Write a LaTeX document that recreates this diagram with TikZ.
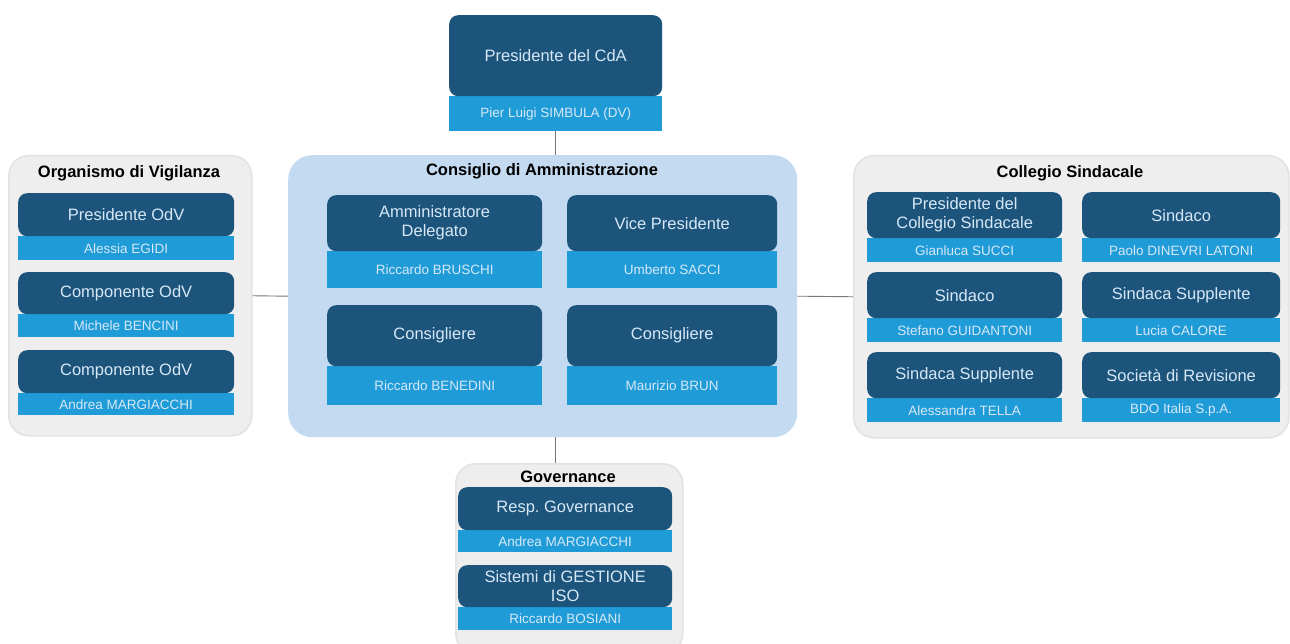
\documentclass[tikz,border=0pt]{standalone}
\usepackage{fontspec}
\setmainfont{Liberation Sans}
\frenchspacing
\usetikzlibrary{positioning}
\definecolor{darkb}{RGB}{28,84,124}
\definecolor{lightb}{RGB}{31,156,216}
\definecolor{cdafill}{RGB}{196,218,240}
\definecolor{sidefill}{RGB}{238,238,238}
\definecolor{sideline}{RGB}{226,226,226}
\definecolor{roletext}{RGB}{214,232,246}
\definecolor{conn}{RGB}{120,120,120}
\tikzset{
  darkbox/.style={fill=darkb, rounded corners=9pt, inner sep=0pt, text=roletext, align=center, font=\fontsize{16.5}{19}\selectfont},
  lightbar/.style={fill=lightb, inner sep=0pt, text=roletext, align=center, font=\fontsize{13.5}{15}\selectfont},
  cdabox/.style={fill=cdafill, rounded corners=24pt, inner sep=0pt},
  sidebox/.style={fill=sidefill, draw=sideline, line width=1.5pt, rounded corners=20pt, inner sep=0pt},
  grptitle/.style={font=\bfseries\fontsize{16.5}{18}\selectfont, text=black, inner sep=0pt},
  link/.style={draw=conn, line width=0.9pt}
}
% name, x1, x2, ytop, ymid, ybot, role, person
\newcommand{\orgbox}[8]{%
  \node[lightbar, anchor=north west, minimum width={(#3-#2)*1pt}, minimum height={(#6-#5)*1pt}] (#1b) at (#2,#5) {#8};
  \node[darkbox, anchor=north west, minimum width={(#3-#2)*1pt}, minimum height={(#5-#4)*1pt}] (#1) at (#2,#4) {#7};
}
\begin{document}
\begin{tikzpicture}[x=1pt,y=-1pt]
\useasboundingbox[fill=white] (0,0) rectangle (1290,644);

% containers
\node[sidebox, anchor=north west, minimum width=243pt, minimum height=280pt] (odv) at (8,155) {};
\node[cdabox, anchor=north west, minimum width=509pt, minimum height=282pt] (cda) at (288,155) {};
\node[sidebox, anchor=north west, minimum width=435pt, minimum height=282pt] (cs) at (853,155) {};
\node[sidebox, anchor=north west, minimum width=227pt, minimum height=190pt] (gov) at (455,463) {};

% titles
\node[grptitle] (odvt) at (129,173) {Organismo di Vigilanza};
\node[grptitle] (cdat) at (542,171) {Consiglio di Amministrazione};
\node[grptitle] (cst) at (1070,173) {Collegio Sindacale};
\node[grptitle] (govt) at (568,477) {Governance};

% top
\orgbox{pres}{449}{662}{15}{96}{131}{Presidente del CdA}{Pier Luigi SIMBULA (DV)}

% OdV
\orgbox{odv1}{18}{234}{193}{236}{260}{Presidente OdV}{Alessia EGIDI}
\orgbox{odv2}{18}{234}{272}{314}{337}{Componente OdV}{Michele BENCINI}
\orgbox{odv3}{18}{234}{350}{393}{415}{Componente OdV}{Andrea MARGIACCHI}

% CdA
\orgbox{cda1}{327}{542}{195}{251}{288}{Amministratore\\Delegato}{Riccardo BRUSCHI}
\orgbox{cda2}{567}{777}{195}{251}{288}{Vice Presidente}{Umberto SACCI}
\orgbox{cda3}{327}{542}{305}{366}{405}{Consigliere}{Riccardo BENEDINI}
\orgbox{cda4}{567}{777}{305}{366}{405}{Consigliere}{Maurizio BRUN}

% Collegio Sindacale
\orgbox{cs1}{867}{1062}{192}{238}{262}{Presidente del\\Collegio Sindacale}{Gianluca SUCCI}
\orgbox{cs2}{1082}{1280}{192}{238}{262}{Sindaco}{Paolo DINEVRI LATONI}
\orgbox{cs3}{867}{1062}{272}{318}{342}{Sindaco}{Stefano GUIDANTONI}
\orgbox{cs4}{1082}{1280}{272}{318}{342}{Sindaca Supplente}{Lucia CALORE}
\orgbox{cs5}{867}{1062}{352}{398}{422}{Sindaca Supplente}{Alessandra TELLA}
\orgbox{cs6}{1082}{1280}{352}{398}{422}{Società di Revisione}{BDO Italia S.p.A.}

% Governance
\orgbox{gov1}{458}{672}{487}{530}{552}{Resp. Governance}{Andrea MARGIACCHI}
\orgbox{gov2}{458}{672}{565}{607}{630}{Sistemi di GESTIONE\\ISO}{Riccardo BOSIANI}

% connectors
\draw[link] (presb.south) -- (presb.south |- cda.north);
\draw[link] (presb.south |- cda.south) -- (presb.south |- gov.north);
\draw[link] (odv.east) -- (cda.west);
\draw[link] (cda.east) -- (cs.west);
\end{tikzpicture}
\end{document}
